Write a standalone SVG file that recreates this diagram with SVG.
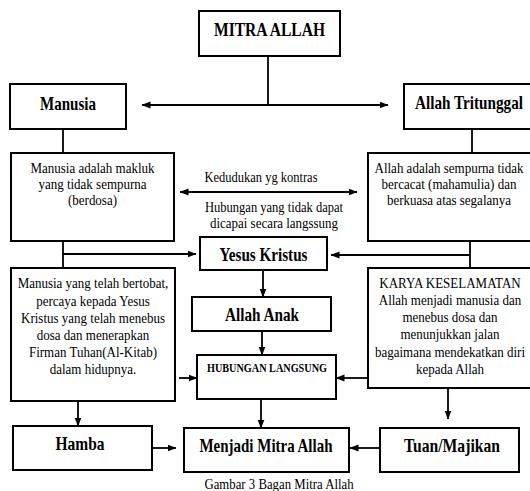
<svg xmlns="http://www.w3.org/2000/svg" width="530" height="491" viewBox="0 0 530 491">
<style>
  .box { fill: #fff; stroke: #000; stroke-width: 2; }
  .ln { fill: none; stroke: #000; stroke-width: 1.8; }
  text { font-family: "Liberation Serif", "Times New Roman", serif; fill: #000; text-anchor: middle;
         transform-box: fill-box; transform-origin: center; transform: scaleY(1.2); }
  .b { font-weight: bold; }
  .body { font-size: 13px; }
</style>
<defs>
  <marker id="ah" markerWidth="9" markerHeight="8" refX="8.5" refY="4" orient="auto-start-reverse" markerUnits="userSpaceOnUse">
    <path d="M0,0.5 L9,4 L0,7.5 z" fill="#000"/>
  </marker>
</defs>
<rect width="530" height="491" fill="#fff"/>

<g id="connectors">
  <path class="ln" d="M268,56 V105"/>
  <path class="ln" d="M142,105 H388" marker-start="url(#ah)" marker-end="url(#ah)"/>
  <path class="ln" d="M63,129 V153"/>
  <path class="ln" d="M472,129 V153"/>
  <path class="ln" d="M180,192 H357" marker-start="url(#ah)" marker-end="url(#ah)"/>
  <path class="ln" d="M63,241 V268"/>
  <path class="ln" d="M63,254 H196" marker-end="url(#ah)"/>
  <path class="ln" d="M470,241 V268"/>
  <path class="ln" d="M470,255 H331" marker-end="url(#ah)"/>
  <path class="ln" d="M263,270 V297" marker-end="url(#ah)"/>
  <path class="ln" d="M262,331 V355" marker-end="url(#ah)"/>
  <path class="ln" d="M179,378 H197" marker-end="url(#ah)"/>
  <path class="ln" d="M368,378 H336" marker-end="url(#ah)"/>
  <path class="ln" d="M78,401 V426" marker-end="url(#ah)"/>
  <path class="ln" d="M261,399 V428" marker-end="url(#ah)"/>
  <path class="ln" d="M448,388 V419" marker-end="url(#ah)"/>
  <path class="ln" d="M152,448 H176" marker-end="url(#ah)"/>
  <path class="ln" d="M380,448 H350" marker-end="url(#ah)"/>
</g>

<g id="mitra-allah">
  <rect class="box" x="199" y="11" width="141" height="45"/>
  <text class="b" x="269.5" y="35" font-size="15.5" textLength="111" lengthAdjust="spacingAndGlyphs">MITRA ALLAH</text>
</g>
<g id="manusia">
  <rect class="box" x="10" y="84" width="116" height="45"/>
  <text class="b" x="68" y="109" font-size="15" textLength="56" lengthAdjust="spacingAndGlyphs">Manusia</text>
</g>
<g id="allah-tritunggal">
  <rect class="box" x="404" y="84" width="132" height="45"/>
  <text class="b" x="469" y="108" font-size="15" textLength="108" lengthAdjust="spacingAndGlyphs">Allah Tritunggal</text>
</g>
<g id="manusia-desc">
  <rect class="box" x="11" y="153" width="163" height="88"/>
  <text class="body" x="92.5" y="172">Manusia adalah makluk</text>
  <text class="body" x="92.5" y="188">yang tidak sempurna</text>
  <text class="body" x="92.5" y="204">(berdosa)</text>
</g>
<g id="allah-desc">
  <rect class="box" x="368" y="153" width="166" height="88"/>
  <text class="body" x="449" y="172">Allah adalah sempurna tidak</text>
  <text class="body" x="449" y="188">bercacat (mahamulia) dan</text>
  <text class="body" x="449" y="204">berkuasa atas segalanya</text>
</g>
<g id="kontras-label">
  <text class="body" x="261" y="181" textLength="113" lengthAdjust="spacingAndGlyphs">Kedudukan yg kontras</text>
  <text class="body" x="274" y="211" textLength="138" lengthAdjust="spacingAndGlyphs">Hubungan yang tidak dapat</text>
  <text class="body" x="274" y="227" textLength="128" lengthAdjust="spacingAndGlyphs">dicapai secara langssung</text>
</g>
<g id="yesus-kristus">
  <rect class="box" x="200" y="237" width="127" height="33"/>
  <text class="b" x="263.5" y="260" font-size="15" textLength="88" lengthAdjust="spacingAndGlyphs">Yesus Kristus</text>
</g>
<g id="manusia-bertobat">
  <rect class="box" x="11" y="268" width="164" height="133"/>
  <text class="body" x="93" y="287">Manusia yang telah bertobat,</text>
  <text class="body" x="93" y="305">percaya kepada Yesus</text>
  <text class="body" x="93" y="322">Kristus yang telah menebus</text>
  <text class="body" x="93" y="339">dosa dan menerapkan</text>
  <text class="body" x="93" y="356">Firman Tuhan(Al-Kitab)</text>
  <text class="body" x="93" y="373">dalam hidupnya.</text>
</g>
<g id="karya-keselamatan">
  <rect class="box" x="368" y="268" width="166" height="120"/>
  <text class="body" x="450" y="287">KARYA KESELAMATAN</text>
  <text class="body" x="450" y="304">Allah menjadi manusia dan</text>
  <text class="body" x="450" y="321">menebus dosa dan</text>
  <text class="body" x="450" y="338">menunjukkan jalan</text>
  <text class="body" x="450" y="356">bagaimana mendekatkan diri</text>
  <text class="body" x="450" y="373">kepada Allah</text>
</g>
<g id="allah-anak">
  <rect class="box" x="192" y="297" width="139" height="34"/>
  <text class="b" x="262" y="320" font-size="15" textLength="74" lengthAdjust="spacingAndGlyphs">Allah Anak</text>
</g>
<g id="hubungan-langsung">
  <rect class="box" x="197" y="355" width="139" height="44"/>
  <text class="b" x="267" y="371" font-size="10.2" textLength="120" lengthAdjust="spacingAndGlyphs">HUBUNGAN LANGSUNG</text>
</g>
<g id="hamba">
  <rect class="box" x="13" y="426" width="139" height="44"/>
  <text class="b" x="80" y="449" font-size="15" textLength="49" lengthAdjust="spacingAndGlyphs">Hamba</text>
</g>
<g id="menjadi-mitra-allah">
  <rect class="box" x="184" y="428" width="165" height="44"/>
  <text class="b" x="266" y="451" font-size="15" textLength="133" lengthAdjust="spacingAndGlyphs">Menjadi Mitra Allah</text>
</g>
<g id="tuan-majikan">
  <rect class="box" x="380" y="428" width="139" height="44"/>
  <text class="b" x="452" y="451" font-size="15" textLength="96" lengthAdjust="spacingAndGlyphs">Tuan/Majikan</text>
</g>
<g id="caption">
  <text x="279" y="488" font-size="12.8">Gambar 3 Bagan Mitra Allah</text>
</g>
</svg>
